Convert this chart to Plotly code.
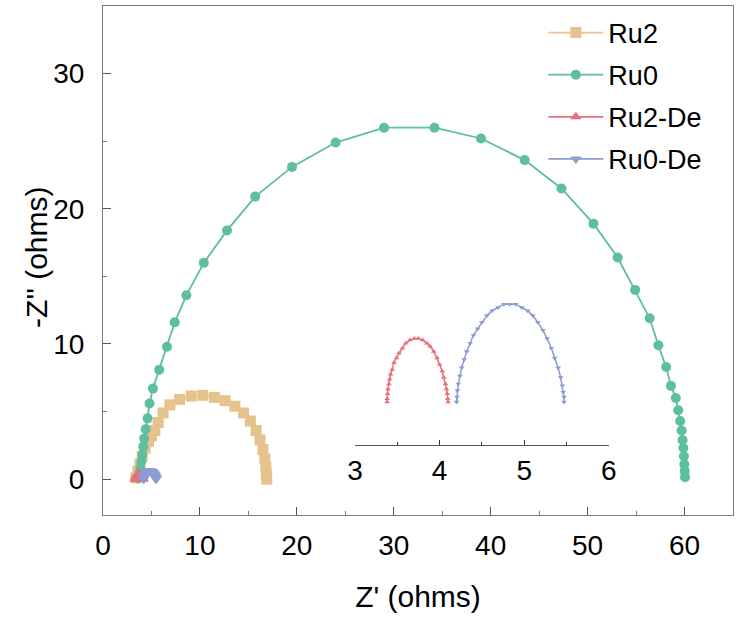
import plotly.graph_objects as go

# ---- data ----
ru2_x = [3.4, 3.6, 3.8, 4.05, 4.35, 4.7, 5.0, 5.35, 5.7, 6.2, 6.9, 7.9, 9.1, 10.3, 11.5,
         12.6, 13.6, 14.5, 15.2, 15.8, 16.2, 16.5, 16.7, 16.8, 16.85, 16.9]
ru2_y = [0.1, 0.6, 1.1, 1.7, 2.3, 2.8, 3.2, 3.6, 4.2, 4.9, 5.5, 5.9, 6.15, 6.2, 6.05,
         5.8, 5.4, 4.9, 4.3, 3.6, 2.9, 2.2, 1.5, 0.9, 0.4, 0.0]

ru0_x = [3.6, 3.75, 3.85, 3.95, 4.05, 4.15, 4.25, 4.4, 4.6, 4.8, 5.15, 5.8, 6.6, 7.4, 8.6,
         10.4, 12.8, 15.7, 19.5, 24.0, 29.0, 34.2, 39.0, 43.5, 47.3, 50.6, 53.1, 54.9,
         56.4, 57.3, 58.1, 58.6, 59.1, 59.35, 59.55, 59.7, 59.8, 59.88, 59.94, 59.98,
         60.02, 60.05]
ru0_y = [0.05, 0.4, 0.8, 1.3, 1.8, 2.4, 3.0, 3.7, 4.5, 5.6, 6.7, 8.1, 9.8, 11.6, 13.6,
         16.0, 18.4, 20.9, 23.1, 24.9, 26.0, 26.0, 25.2, 23.6, 21.5, 18.9, 16.4, 14.0,
         11.9, 9.9, 8.3, 6.9, 6.0, 5.1, 4.3, 3.6, 2.9, 2.3, 1.7, 1.1, 0.6, 0.15]

ru2de_x = [3.38, 3.38, 3.385, 3.39, 3.40, 3.41, 3.42, 3.44, 3.46, 3.49, 3.52, 3.56, 3.60,
           3.65, 3.70, 3.75, 3.80, 3.85, 3.89, 3.93, 3.97, 4.00, 4.03, 4.05, 4.07, 4.08,
           4.09, 4.095, 4.10]
ru2de_y = [0.00, 0.02, 0.05, 0.08, 0.11, 0.14, 0.17, 0.20, 0.24, 0.27, 0.30, 0.33, 0.36,
           0.38, 0.39, 0.39, 0.38, 0.36, 0.34, 0.31, 0.27, 0.23, 0.19, 0.15, 0.11, 0.08,
           0.05, 0.02, 0.00]

ru0de_x = [4.20, 4.205, 4.21, 4.22, 4.24, 4.26, 4.29, 4.32, 4.36, 4.40, 4.45, 4.50, 4.56,
           4.62, 4.69, 4.76, 4.83, 4.90, 4.97, 5.04, 5.10, 5.16, 5.22, 5.27, 5.32, 5.36,
           5.40, 5.43, 5.45, 5.46, 5.47, 5.47]
ru0de_y = [0.00, 0.03, 0.07, 0.11, 0.16, 0.21, 0.26, 0.31, 0.36, 0.41, 0.45, 0.49, 0.53,
           0.56, 0.58, 0.60, 0.60, 0.60, 0.58, 0.56, 0.53, 0.49, 0.44, 0.39, 0.33, 0.27,
           0.21, 0.15, 0.10, 0.06, 0.03, 0.00]

names = ["Ru2", "Ru0", "Ru2-De", "Ru0-De"]
colors = ["#E6C38D", "#5DBF9E", "#E8707A", "#8C9BD1"]
symbols = ["square", "circle", "triangle-up", "triangle-down"]
msizes = [11, 10, 10, 10]
series = [(ru2_x, ru2_y), (ru0_x, ru0_y), (ru2de_x, ru2de_y), (ru0de_x, ru0de_y)]

x_ticks = [0, 10, 20, 30, 40, 50, 60]
y_ticks = [0, 10, 20, 30]
inset_ticks = [3, 4, 5, 6]

FONT = "Arial, Liberation Sans, sans-serif"

fig = go.Figure()
for i, (xs, ys) in enumerate(series):
    fig.add_trace(go.Scatter(
        x=xs, y=ys, mode="lines+markers", name=names[i],
        line=dict(color=colors[i], width=1.8),
        marker=dict(symbol=symbols[i], size=msizes[i], color=colors[i]),
        legendgroup=names[i],
    ))
# inset traces
for i in (2, 3):
    xs, ys = series[i]
    fig.add_trace(go.Scatter(
        x=xs, y=ys, mode="lines+markers", name=names[i], showlegend=False,
        line=dict(color=colors[i], width=1.5),
        marker=dict(symbol=symbols[i], size=5, color=colors[i]),
        xaxis="x2", yaxis="y2",
    ))

axis_common = dict(
    showline=True, linecolor="#7a7a7a", linewidth=1.2, mirror=True,
    ticks="inside", ticklen=8, tickwidth=1.2, tickcolor="#555",
    showgrid=False, zeroline=False, automargin=False,
    tickfont=dict(family=FONT, size=28, color="black"),
)

fig.update_layout(
    template="none",
    width=736, height=625,
    margin=dict(l=103, r=3, t=6, b=110, autoexpand=False),
    paper_bgcolor="white", plot_bgcolor="white",
    font=dict(family=FONT, color="black"),
    xaxis=dict(
        range=[0, 65], tickvals=x_ticks,
        minor=dict(ticks="inside", ticklen=4, tickcolor="#777", dtick=5, tick0=5),
        title=dict(text="Z' (ohms)", font=dict(family=FONT, size=30), standoff=26),
        ticklabelstandoff=5,
        **axis_common,
    ),
    yaxis=dict(
        range=[-2.65, 35], tickvals=y_ticks,
        minor=dict(ticks="inside", ticklen=4, tickcolor="#777", dtick=5, tick0=5),
        ticklabelstandoff=12,
        **axis_common,
    ),
    xaxis2=dict(
        domain=[0.4, 0.803], anchor="y2", range=[3, 6],
        tickvals=inset_ticks,
        showline=True, linecolor="#555", linewidth=1.2,
        ticks="inside", ticklen=5, tickwidth=1.2, tickcolor="#333",
        minor=dict(ticks="inside", ticklen=3, tickcolor="#333", dtick=0.5, tick0=3.5),
        showgrid=False, zeroline=False, automargin=False,
        tickfont=dict(family=FONT, size=28, color="black"),
    ),
    yaxis2=dict(
        domain=[0.1375, 0.442], anchor="x2", range=[-0.264, 0.687],
        visible=False,
    ),
    legend=dict(
        x=0.699, y=0.995, xanchor="left", yanchor="top",
        bgcolor="rgba(0,0,0,0)", borderwidth=0,
        font=dict(family=FONT, size=27, color="black"),
        itemwidth=55, tracegroupgap=4,
    ),
    annotations=[dict(
        text="-Z'' (ohms)", textangle=-90, showarrow=False,
        xref="paper", yref="paper", x=-0.1048, y=0.507,
        xanchor="center", yanchor="middle",
        font=dict(family=FONT, size=30, color="black"),
    )],
)

fig.write_html("out.html")
